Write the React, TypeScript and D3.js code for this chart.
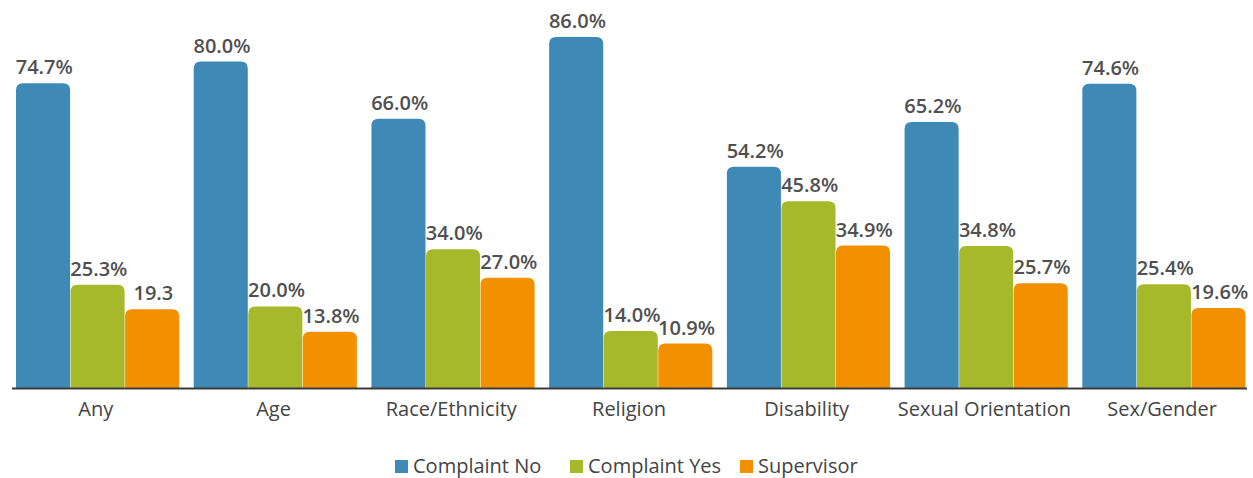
import { useEffect, useRef } from 'react';
import * as d3 from 'd3';

const categories = ['Any', 'Age', 'Race/Ethnicity', 'Religion', 'Disability', 'Sexual Orientation', 'Sex/Gender'];
const seriesNames = ['Complaint No', 'Complaint Yes', 'Supervisor'];
const complaintNo = [74.7, 80.0, 66.0, 86.0, 54.2, 65.2, 74.6];
const complaintYes = [25.3, 20.0, 34.0, 14.0, 45.8, 34.8, 25.4];
const supervisor = [19.3, 13.8, 27.0, 10.9, 34.9, 25.7, 19.6];
const valueLabels = [
  ['74.7%', '80.0%', '66.0%', '86.0%', '54.2%', '65.2%', '74.6%'],
  ['25.3%', '20.0%', '34.0%', '14.0%', '45.8%', '34.8%', '25.4%'],
  ['19.3', '13.8%', '27.0%', '10.9%', '34.9%', '25.7%', '19.6%'],
];
const colors = ['#3f89b6', '#a6b92b', '#f39000'];

const W = 1253;
const H = 478;
const FONT = '"Open Sans", sans-serif';

function topRounded(x: number, y: number, w: number, h: number, r: number) {
  const rr = Math.min(r, h, w / 2);
  return `M${x},${y + h}V${y + rr}Q${x},${y} ${x + rr},${y}H${x + w - rr}Q${x + w},${y} ${x + w},${y + rr}V${y + h}Z`;
}

export default function App() {
  const svgRef = useRef<SVGSVGElement>(null);

  useEffect(() => {
    if (!svgRef.current) return;
    const svg = d3.select(svgRef.current);
    svg.selectAll('*').remove();

    const baseline = 388;
    const series = [complaintNo, complaintYes, supervisor];

    const x0 = d3.scaleBand<string>().domain(categories).range([16, 1246]).paddingInner(0.079).paddingOuter(0);
    const x1 = d3.scaleBand<number>().domain([0, 1, 2]).range([0, x0.bandwidth()]).padding(0);
    const y = d3.scaleLinear().domain([0, 90]).range([baseline, baseline - 367.2]);

    const g = svg.append('g');

    categories.forEach((cat, ci) => {
      series.forEach((vals, si) => {
        const bx = (x0(cat) ?? 0) + (x1(si) ?? 0);
        const by = y(vals[ci]);
        const bw = x1.bandwidth();
        g.append('path')
          .attr('d', topRounded(bx, by, bw - 0.5, baseline - by, 7))
          .attr('fill', colors[si]);
        g.append('text')
          .attr('x', bx + bw / 2 + 1)
          .attr('y', by - 9)
          .attr('text-anchor', 'middle')
          .attr('font-family', FONT)
          .attr('font-size', '20px')
          .attr('font-weight', 600)
          .attr('fill', '#505050')
          .text(valueLabels[si][ci]);
      });
      g.append('text')
        .attr('x', (x0(cat) ?? 0) + x0.bandwidth() / 2 - 2)
        .attr('y', 416)
        .attr('text-anchor', 'middle')
        .attr('font-family', FONT)
        .attr('font-size', '20px')
        .attr('font-weight', 500)
        .attr('fill', '#444')
        .text(cat);
    });

    // baseline axis
    svg.append('line')
      .attr('x1', 12)
      .attr('x2', 1247)
      .attr('y1', baseline + 0.5)
      .attr('y2', baseline + 0.5)
      .attr('stroke', '#3a3a3a')
      .attr('stroke-width', 2);

    // legend
    const legendX = [395, 570, 740];
    const legend = svg.append('g');
    seriesNames.forEach((name, i) => {
      legend.append('rect')
        .attr('x', legendX[i])
        .attr('y', 460)
        .attr('width', 13)
        .attr('height', 13)
        .attr('fill', colors[i]);
      legend.append('text')
        .attr('x', legendX[i] + 18)
        .attr('y', 473)
        .attr('font-family', FONT)
        .attr('font-size', '20px')
        .attr('font-weight', 500)
        .attr('fill', '#444')
        .text(name);
    });
  }, []);

  return (
    <svg
      ref={svgRef}
      width={W}
      height={H}
      style={{ position: 'absolute', left: 0, top: 0, background: '#fff' }}
    />
  );
}
